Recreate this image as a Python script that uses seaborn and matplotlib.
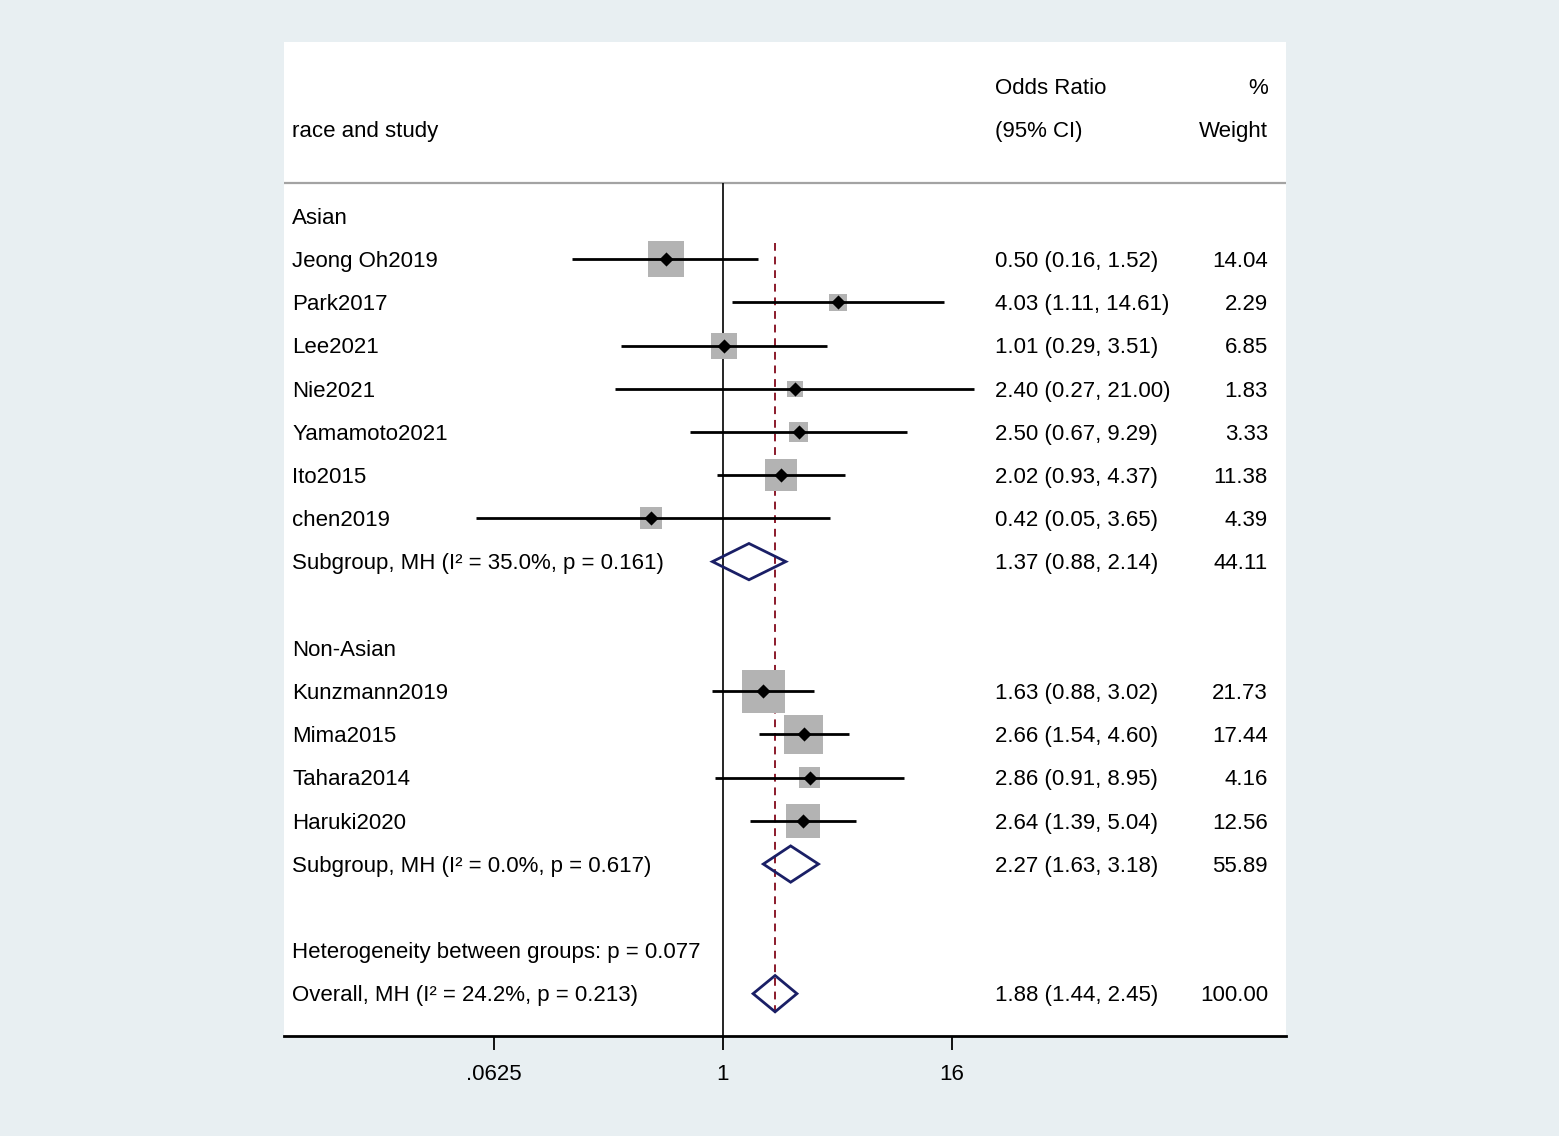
import numpy as np
import pandas as pd
import seaborn as sns
import matplotlib.pyplot as plt
from matplotlib.patches import Polygon
from matplotlib.transforms import blended_transform_factory

# studies (odds ratio with 95% CI, % weight)
studies = ["Jeong Oh2019", "Park2017", "Lee2021", "Nie2021", "Yamamoto2021", "Ito2015",
           "chen2019", "Kunzmann2019", "Mima2015", "Tahara2014", "Haruki2020"]
study_rows = [1, 2, 3, 4, 5, 6, 7, 11, 12, 13, 14]
odds = [0.50, 4.03, 1.01, 2.40, 2.50, 2.02, 0.42, 1.63, 2.66, 2.86, 2.64]
lower = [0.16, 1.11, 0.29, 0.27, 0.67, 0.93, 0.05, 0.88, 1.54, 0.91, 1.39]
upper = [1.52, 14.61, 3.51, 21.00, 9.29, 4.37, 3.65, 3.02, 4.60, 8.95, 5.04]
weights = [14.04, 2.29, 6.85, 1.83, 3.33, 11.38, 4.39, 21.73, 17.44, 4.16, 12.56]

# pooled estimates
pooled_labels = ["Subgroup, MH (I² = 35.0%, p = 0.161)",
                 "Subgroup, MH (I² = 0.0%, p = 0.617)",
                 "Overall, MH (I² = 24.2%, p = 0.213)"]
pooled_rows = [8, 15, 18]
pooled_or = [1.37, 2.27, 1.88]
pooled_lo = [0.88, 1.63, 1.44]
pooled_hi = [2.14, 3.18, 2.45]
pooled_w = [44.11, 55.89, 100.00]

group_labels = ["Asian", "Non-Asian", "Heterogeneity between groups: p = 0.077"]
group_rows = [0, 10, 17]

tick_values = [0.0625, 1, 16]
tick_labels = [".0625", "1", "16"]

df = pd.DataFrame({"study": studies, "row": study_rows, "or": odds,
                   "lo": lower, "hi": upper, "w": weights})
df["log_or"] = np.log2(df["or"])
# box side grows with sqrt of weight (pixels -> points)
df["box"] = ((4.6 + 8.25 * np.sqrt(df["w"])) * 0.72) ** 2

sns.set_style("white")
plt.rcParams["font.family"] = ["Liberation Sans", "DejaVu Sans"]
plt.rcParams["text.color"] = "black"
plt.rcParams["xtick.color"] = "black"

fig = plt.figure(figsize=(15.59, 11.36), dpi=100, facecolor="#e8eff2")
ax = fig.add_axes([284 / 1559, 100 / 1136, 1002 / 1559, 994 / 1136])
ax.set_facecolor("white")
ax.set_xlim(-7.675, 9.843)
ax.set_ylim(18.98, -4.028)

trans = blended_transform_factory(ax.transAxes, ax.transData)
fs = 16
off = 0.178

# reference lines
ax.axhline(-0.77, color="#a3a3a3", lw=1.6, zorder=1)
ax.vlines(0, -0.77, 18.98, color="black", lw=1.2, zorder=2)
ax.vlines(np.log2(pooled_or[2]), 0.625, 18.45, color="#8b1a2b", lw=1.4,
          linestyles=(0, (4, 3)), zorder=2)

# weight boxes, CIs and point estimates
sns.scatterplot(data=df, x="log_or", y="row", marker="s", s=df["box"],
                color="#b3b3b3", linewidth=0, legend=False, ax=ax, zorder=3)
ax.hlines(df["row"], np.log2(df["lo"]), np.log2(df["hi"]), color="black", lw=2, zorder=4)
sns.scatterplot(data=df, x="log_or", y="row", marker="D", s=52,
                color="black", linewidth=0, legend=False, ax=ax, zorder=5)

# pooled diamonds
for r, o, lo, hi in zip(pooled_rows, pooled_or, pooled_lo, pooled_hi):
    pts = [(np.log2(lo), r), (np.log2(o), r - 0.42), (np.log2(hi), r), (np.log2(o), r + 0.42)]
    ax.add_patch(Polygon(pts, closed=True, fill=False, edgecolor="#1a1f66", lw=2, zorder=6))

# headers
ax.text(0.7096, -3 + off, "Odds Ratio", transform=trans, fontsize=fs, ha="left", va="baseline")
ax.text(0.982, -3 + off, "%", transform=trans, fontsize=fs, ha="right", va="baseline")
ax.text(0.008, -2 + off, "race and study", transform=trans, fontsize=fs, ha="left", va="baseline")
ax.text(0.7096, -2 + off, "(95% CI)", transform=trans, fontsize=fs, ha="left", va="baseline")
ax.text(0.982, -2 + off, "Weight", transform=trans, fontsize=fs, ha="right", va="baseline")

for lab, r in zip(group_labels, group_rows):
    ax.text(0.008, r + off, lab, transform=trans, fontsize=fs, ha="left", va="baseline")

for _, s in df.iterrows():
    ax.text(0.008, s["row"] + off, s["study"], transform=trans, fontsize=fs, va="baseline")
    ax.text(0.7096, s["row"] + off, f"{s['or']:.2f} ({s['lo']:.2f}, {s['hi']:.2f})",
            transform=trans, fontsize=fs, va="baseline")
    ax.text(0.982, s["row"] + off, f"{s['w']:.2f}", transform=trans, fontsize=fs,
            ha="right", va="baseline")

for lab, r, o, lo, hi, w in zip(pooled_labels, pooled_rows, pooled_or, pooled_lo, pooled_hi, pooled_w):
    ax.text(0.008, r + off, lab, transform=trans, fontsize=fs, va="baseline")
    ax.text(0.7096, r + off, f"{o:.2f} ({lo:.2f}, {hi:.2f})", transform=trans,
            fontsize=fs, va="baseline")
    ax.text(0.982, r + off, f"{w:.2f}", transform=trans, fontsize=fs, ha="right", va="baseline")

# axes styling
for side in ["top", "left", "right"]:
    ax.spines[side].set_visible(False)
ax.spines["bottom"].set_linewidth(2)
ax.spines["bottom"].set_color("black")
ax.set_yticks([])
ax.set_xticks(np.log2(tick_values))
ax.set_xticklabels(tick_labels, fontsize=fs, color="black")
ax.tick_params(axis="x", direction="out", length=10, width=1.3, pad=10.5, bottom=True,
               colors="black")
ax.set_xlabel("")
ax.set_ylabel("")

fig.savefig("out.png", dpi=100, facecolor=fig.get_facecolor())
